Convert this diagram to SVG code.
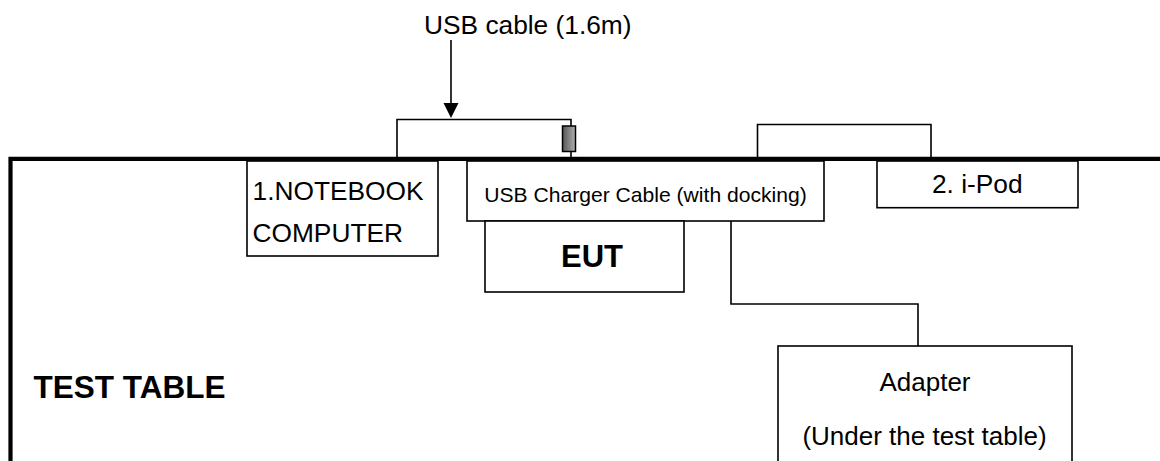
<svg xmlns="http://www.w3.org/2000/svg" width="1160" height="461" viewBox="0 0 1160 461">
<style>
  .box { fill: #ffffff; stroke: #000000; stroke-width: 1.6; }
  .wire { fill: none; stroke: #000000; stroke-width: 1.6; }
  .t { font-family: "Liberation Sans", Arial, sans-serif; fill: #000000; }
</style>
<defs>
  <linearGradient id="plug" x1="0" y1="0" x2="1" y2="0">
    <stop offset="0" stop-color="#555555"/>
    <stop offset="1" stop-color="#b0b0b0"/>
  </linearGradient>
</defs>
<rect width="1160" height="461" fill="#ffffff"/>

<g id="connectors">
  <!-- USB cable from notebook to charger dock -->
  <polyline class="wire" points="397,157 397,119.5 571,119.5 571,126"/>
  <line class="wire" x1="571" y1="151.5" x2="571" y2="157"/>
  <!-- i-Pod cable -->
  <polyline class="wire" points="757.5,157 757.5,124.5 931,124.5 931,157"/>
  <!-- Charger to adapter -->
  <polyline class="wire" points="731,221 731,304 918,304 918,346"/>
  <!-- USB cable label arrow -->
  <line class="wire" x1="451" y1="40" x2="451" y2="104"/>
  <polygon points="443.5,103 458.5,103 451,118" fill="#000000"/>
</g>

<g id="plug">
  <rect x="562.5" y="126" width="13" height="25.5" fill="url(#plug)" stroke="#000000" stroke-width="1.5"/>
</g>

<g id="test-table">
  <polyline points="10.5,461 10.5,158.8 1160,158.8" fill="none" stroke="#000000" stroke-width="4.2"/>
  <text class="t" x="33.5" y="397.7" font-size="31.5" font-weight="bold">TEST TABLE</text>
</g>

<g id="usb-label">
  <text class="t" x="424" y="33.5" font-size="26.3">USB cable (1.6m)</text>
</g>

<g id="notebook">
  <rect class="box" x="247" y="161" width="191" height="95"/>
  <text class="t" x="252.5" y="200" font-size="26.3">1.NOTEBOOK</text>
  <text class="t" x="252.5" y="241.7" font-size="26.3">COMPUTER</text>
</g>

<g id="charger">
  <rect class="box" x="467" y="161" width="357" height="60"/>
  <text class="t" x="645.5" y="202" font-size="21.1" text-anchor="middle">USB Charger Cable (with docking)</text>
</g>

<g id="eut">
  <rect class="box" x="485" y="221" width="199" height="71"/>
  <text class="t" x="592" y="266.7" font-size="31" font-weight="bold" text-anchor="middle">EUT</text>
</g>

<g id="ipod">
  <rect class="box" x="877" y="161" width="201" height="46.7"/>
  <text class="t" x="977.3" y="193.3" font-size="26.3" text-anchor="middle">2. i-Pod</text>
</g>

<g id="adapter">
  <rect class="box" x="778" y="346" width="294" height="130"/>
  <text class="t" x="925" y="391" font-size="26" text-anchor="middle">Adapter</text>
  <text class="t" x="924.5" y="445" font-size="26" text-anchor="middle">(Under the test table)</text>
</g>
</svg>
